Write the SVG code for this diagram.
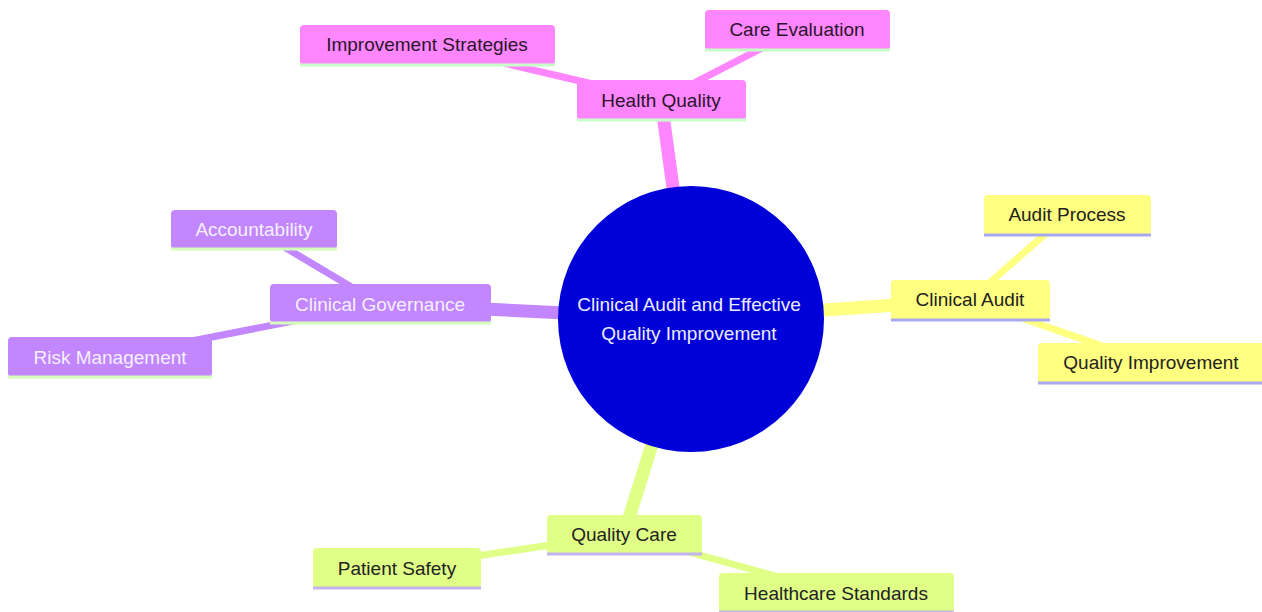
<svg xmlns="http://www.w3.org/2000/svg" width="1262" height="612" viewBox="0 0 1262 612">
<style>
text{font-family:"Liberation Sans",Arial,sans-serif;font-size:19px;text-anchor:middle}
.e1{stroke-width:13;stroke-linecap:butt;fill:none}
.e2{stroke-width:7;stroke-linecap:butt;fill:none}
.s0{fill:#ffff80}.s0t{fill:#222}.s0l{stroke:#a8a8ee}
.s1{fill:#dfff86}.s1t{fill:#222}.s1l{stroke:#c4b4ee}
.s2{fill:#c286ff}.s2t{fill:#f4f0ff}.s2l{stroke:#d4ffb8}
.s3{fill:#ff86ff}.s3t{fill:#2a142a}.s3l{stroke:#c8ffc8}
.ln{stroke-width:3}
</style>
<rect width="1262" height="612" fill="#ffffff"/>
<g id="connectors">
<line class="e1" x1="691" y1="319" x2="661" y2="100" stroke="#ff86ff"/>
<line class="e2" x1="661" y1="100" x2="427" y2="45" stroke="#ff86ff"/>
<line class="e2" x1="661" y1="100" x2="797" y2="30" stroke="#ff86ff"/>
<line class="e1" x1="691" y1="319" x2="380" y2="304" stroke="#c286ff"/>
<line class="e2" x1="380" y1="304" x2="254" y2="229" stroke="#c286ff"/>
<line class="e2" x1="380" y1="304" x2="110" y2="357" stroke="#c286ff"/>
<line class="e1" x1="691" y1="319" x2="970" y2="300" stroke="#ffff80"/>
<line class="e2" x1="970" y1="300" x2="1067" y2="215" stroke="#ffff80"/>
<line class="e2" x1="970" y1="300" x2="1151" y2="363" stroke="#ffff80"/>
<line class="e1" x1="691" y1="319" x2="624" y2="534" stroke="#dfff86"/>
<line class="e2" x1="624" y1="534" x2="397" y2="568" stroke="#dfff86"/>
<line class="e2" x1="624" y1="534" x2="836" y2="593" stroke="#dfff86"/>
</g>
<g id="root">
<circle cx="691" cy="319" r="133" fill="#0000d9"/>
<text x="689" y="311" fill="#ececff">Clinical Audit and Effective</text>
<text x="689" y="340" fill="#ececff">Quality Improvement</text>
</g>
<g id="health-quality">
<rect class="s3" x="577" y="80" width="169" height="40" rx="4"/>
<line class="ln s3l" x1="577" y1="120" x2="746" y2="120"/>
<text class="s3t" x="661" y="107">Health Quality</text>
</g>
<g id="improvement-strategies">
<rect class="s3" x="300" y="25" width="255" height="40" rx="4"/>
<line class="ln s3l" x1="300" y1="65" x2="555" y2="65"/>
<text class="s3t" x="427" y="51">Improvement Strategies</text>
</g>
<g id="care-evaluation">
<rect class="s3" x="705" y="10" width="185" height="40" rx="4"/>
<line class="ln s3l" x1="705" y1="50" x2="890" y2="50"/>
<text class="s3t" x="797" y="36">Care Evaluation</text>
</g>
<g id="clinical-governance">
<rect class="s2" x="270" y="284" width="221" height="39" rx="4"/>
<line class="ln s2l" x1="270" y1="323" x2="491" y2="323"/>
<text class="s2t" x="380" y="311">Clinical Governance</text>
</g>
<g id="accountability">
<rect class="s2" x="171" y="210" width="166" height="39" rx="4"/>
<line class="ln s2l" x1="171" y1="249" x2="337" y2="249"/>
<text class="s2t" x="254" y="236">Accountability</text>
</g>
<g id="risk-management">
<rect class="s2" x="8" y="337" width="204" height="40" rx="4"/>
<line class="ln s2l" x1="8" y1="377" x2="212" y2="377"/>
<text class="s2t" x="110" y="364">Risk Management</text>
</g>
<g id="clinical-audit">
<rect class="s0" x="891" y="280" width="159" height="40" rx="4"/>
<line class="ln s0l" x1="891" y1="320" x2="1050" y2="320"/>
<text class="s0t" x="970" y="306">Clinical Audit</text>
</g>
<g id="audit-process">
<rect class="s0" x="984" y="195" width="167" height="40" rx="4"/>
<line class="ln s0l" x1="984" y1="235" x2="1151" y2="235"/>
<text class="s0t" x="1067" y="221">Audit Process</text>
</g>
<g id="quality-improvement">
<rect class="s0" x="1038" y="343" width="226" height="40" rx="4"/>
<line class="ln s0l" x1="1038" y1="383" x2="1264" y2="383"/>
<text class="s0t" x="1151" y="369">Quality Improvement</text>
</g>
<g id="quality-care">
<rect class="s1" x="547" y="515" width="155" height="39" rx="4"/>
<line class="ln s1l" x1="547" y1="554" x2="702" y2="554"/>
<text class="s1t" x="624" y="541">Quality Care</text>
</g>
<g id="patient-safety">
<rect class="s1" x="313" y="548" width="168" height="40" rx="4"/>
<line class="ln s1l" x1="313" y1="588" x2="481" y2="588"/>
<text class="s1t" x="397" y="575">Patient Safety</text>
</g>
<g id="healthcare-standards">
<rect class="s1" x="719" y="573" width="235" height="39" rx="4"/>
<line class="ln s1l" x1="719" y1="612" x2="954" y2="612"/>
<text class="s1t" x="836" y="600">Healthcare Standards</text>
</g>
</svg>
